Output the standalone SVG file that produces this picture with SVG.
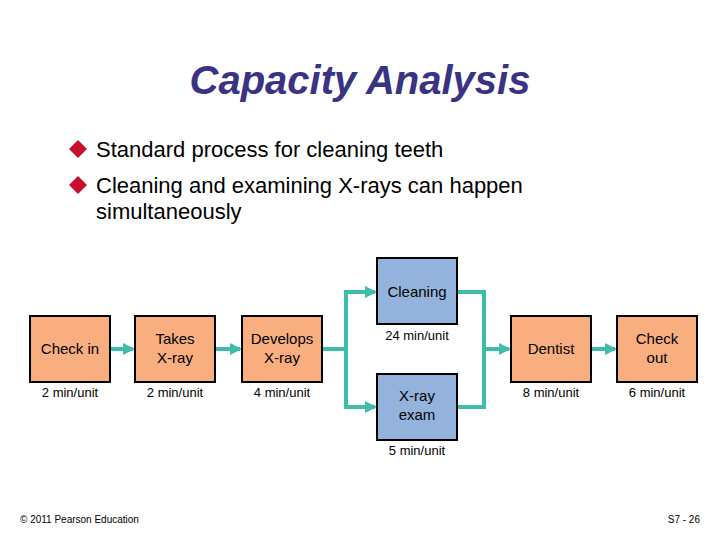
<svg xmlns="http://www.w3.org/2000/svg" width="720" height="540" viewBox="0 0 720 540">
<defs>
<style>
.t{font-family:"Liberation Sans",Arial,sans-serif}
.o{fill:#f8ae7e;stroke:#000;stroke-width:2}
.b{fill:#94b3dc;stroke:#000;stroke-width:2}
.n{font-family:"Liberation Sans",Arial,sans-serif;font-size:15px;text-anchor:middle;fill:#000}
.l{font-family:"Liberation Sans",Arial,sans-serif;font-size:13px;text-anchor:middle;fill:#000}
.c{fill:none;stroke:#3dbdaa;stroke-width:4}
.bt{font-family:"Liberation Sans",Arial,sans-serif;font-size:22px;fill:#000}
</style>
<marker id="a" markerWidth="3" markerHeight="3" refX="2.5" refY="1.5" orient="auto" markerUnits="strokeWidth"><path d="M0,0L3,1.5L0,3z" fill="#3dbdaa"/></marker>
</defs>
<rect width="720" height="540" fill="#fff"/>
<text x="360" y="94" text-anchor="middle" class="t" font-size="40" font-style="italic" font-weight="bold" fill="#3a3282">Capacity Analysis</text>
<path d="M78,140l9,9l-9,9l-9,-9z" fill="#c8102e"/>
<path d="M78,176l9,9l-9,9l-9,-9z" fill="#c8102e"/>
<text x="96" y="157" class="bt">Standard process for cleaning teeth</text>
<text x="96" y="193" class="bt">Cleaning and examining X-rays can happen</text>
<text x="96" y="219" class="bt">simultaneously</text>
<g id="connectors">
<path class="c" d="M110,349H133" marker-end="url(#a)"/>
<path class="c" d="M215,349H240" marker-end="url(#a)"/>
<path class="c" d="M322,349H346"/>
<path class="c" d="M346,292V407"/>
<path class="c" d="M344,292H375" marker-end="url(#a)"/>
<path class="c" d="M344,407H375" marker-end="url(#a)"/>
<path class="c" d="M457,292H484V407H457"/>
<path class="c" d="M484,349H509" marker-end="url(#a)"/>
<path class="c" d="M592,349H615" marker-end="url(#a)"/>
</g>
<g id="checkin"><rect class="o" x="30" y="316" width="80" height="66"/><text class="n" x="70" y="354">Check in</text><text class="l" x="70" y="397">2 min/unit</text></g>
<g id="takes"><rect class="o" x="135" y="316" width="80" height="66"/><text class="n" x="175" y="344">Takes</text><text class="n" x="175" y="363">X-ray</text><text class="l" x="175" y="397">2 min/unit</text></g>
<g id="develops"><rect class="o" x="242" y="316" width="80" height="66"/><text class="n" x="282" y="344">Develops</text><text class="n" x="282" y="363">X-ray</text><text class="l" x="282" y="397">4 min/unit</text></g>
<g id="cleaning"><rect class="b" x="377" y="258" width="80" height="66"/><text class="n" x="417" y="297">Cleaning</text><text class="l" x="417" y="340">24 min/unit</text></g>
<g id="xrayexam"><rect class="b" x="377" y="374" width="80" height="66"/><text class="n" x="417" y="401">X-ray</text><text class="n" x="417" y="420">exam</text><text class="l" x="417" y="455">5 min/unit</text></g>
<g id="dentist"><rect class="o" x="511" y="316" width="80" height="66"/><text class="n" x="551" y="354">Dentist</text><text class="l" x="551" y="397">8 min/unit</text></g>
<g id="checkout"><rect class="o" x="617" y="316" width="80" height="66"/><text class="n" x="657" y="344">Check</text><text class="n" x="657" y="363">out</text><text class="l" x="657" y="397">6 min/unit</text></g>
<text x="20" y="523" class="t" font-size="10" fill="#000">© 2011 Pearson Education</text>
<text x="700" y="523" class="t" font-size="10" text-anchor="end" fill="#000">S7 - 26</text>
</svg>
